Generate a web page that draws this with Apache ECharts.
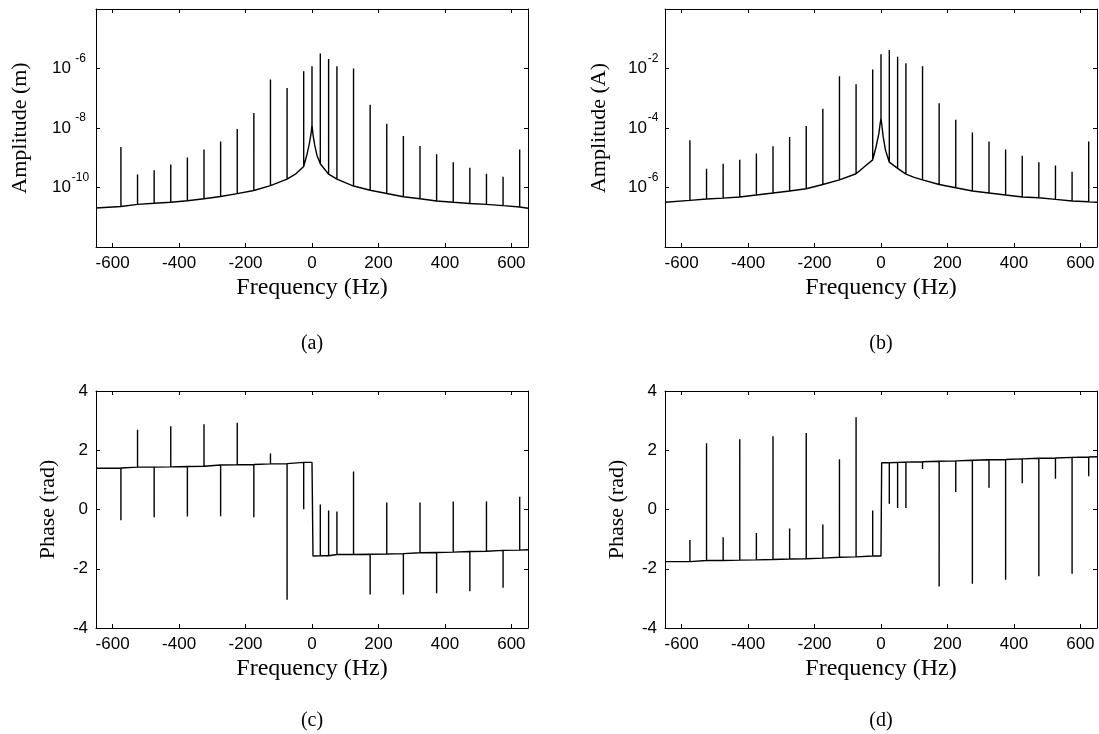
<!DOCTYPE html>
<html><head><meta charset="utf-8">
<script src="https://cdn.jsdelivr.net/npm/echarts@6.0.0/dist/echarts.min.js"></script>
<style>html,body{margin:0;padding:0;background:#fff}#c{width:1099px;height:734px}</style>
</head><body><div id="c"></div>
<script>
// ---------- data ----------
const X_TICKS = [-600, -400, -200, 0, 200, 400, 600];
// labelled decades (exponents) of the two amplitude axes
const Y_M_EXPONENTS = [-10, -8, -6];
const Y_A_EXPONENTS = [-6, -4, -2];

// harmonic frequencies carrying a spike (Hz)
const FREQ_HZ = [-575,-525,-475,-425,-375,-325,-275,-225,-175,-125,-75,-25,0,25,50,75,125,175,225,275,325,375,425,475,525,575,625];

// (a) displacement amplitude (m)
const AMP_M_PEAK  = [2.3e-9,2.75e-10,3.8e-10,5.9e-10,1.02e-9,1.9e-9,3.5e-9,9.3e-9,3.2e-8,4.3e-7,2.2e-7,8.1e-7,1.2e-6,3.2e-6,2.1e-6,1.2e-6,1.0e-6,6.0e-8,1.4e-8,5.4e-9,2.5e-9,1.3e-9,7.1e-10,4.6e-10,2.9e-10,2.3e-10,1.9e-9];
const AMP_M_FLOOR = [2.3e-11,2.7e-11,2.95e-11,3.2e-11,3.6e-11,4.2e-11,5.0e-11,6.2e-11,7.9e-11,1.15e-10,1.9e-10,5.1e-10,1.26e-8,6.3e-10,2.8e-10,1.9e-10,1.12e-10,8.1e-11,6.3e-11,4.9e-11,4.2e-11,3.5e-11,3.2e-11,2.9e-11,2.7e-11,2.45e-11,2.2e-11];
const AMP_M_XFREQ = [-650,-50,-15,-8,-3,3,8,15,100,650];
const AMP_M_XVAL  = [2.05e-11,2.8e-10,1.3e-9,3.0e-9,6.3e-9,6.0e-9,2.7e-9,1.2e-9,1.45e-10,2.0e-11];

// (b) current amplitude (A)
const AMP_A_PEAK  = [3.9e-5,4.3e-6,6.3e-6,8.5e-6,1.4e-5,2.45e-5,5.0e-5,1.17e-4,4.4e-4,5.5e-3,2.95e-3,9.3e-3,3.0e-2,4.2e-2,2.5e-2,1.5e-2,1.2e-2,6.8e-4,1.9e-4,7.1e-5,3.5e-5,1.9e-5,1.17e-5,7.1e-6,5.5e-6,3.4e-6,3.5e-5];
const AMP_A_FLOOR = [3.7e-7,4.1e-7,4.4e-7,4.8e-7,5.6e-7,6.5e-7,7.6e-7,9.1e-7,1.26e-6,1.8e-6,2.9e-6,8.5e-6,2.1e-4,7.1e-6,4.4e-6,2.8e-6,1.8e-6,1.26e-6,9.8e-7,7.6e-7,6.5e-7,5.6e-7,4.8e-7,4.5e-7,4.0e-7,3.5e-7,3.3e-7];
const AMP_A_XFREQ = [-650,-50,-15,-6.5,-2.5,2.5,6.5,13.5,100,650];
const AMP_A_XVAL  = [3.2e-7,5.0e-6,2.3e-5,6.5e-5,1.4e-4,1.26e-4,5.1e-5,1.8e-5,2.2e-6,3.2e-7];

// phase spectra: harmonics without the DC bin
const PH_FREQ_HZ = [-575,-525,-475,-425,-375,-325,-275,-225,-175,-125,-75,-25,25,50,75,125,175,225,275,325,375,425,475,525,575,625];

// (c) displacement phase (rad)
const PH_C_PEAK = [-0.36,2.69,-0.26,2.81,-0.24,2.88,-0.23,2.93,-0.26,1.89,-3.05,0.01,0.17,-0.03,-0.07,1.28,-2.87,0.24,-2.87,0.24,-2.83,0.27,-2.76,0.27,-2.64,0.43];
const PH_C_BASE = [1.40,1.43,1.43,1.44,1.45,1.46,1.50,1.51,1.52,1.54,1.55,1.59,-1.56,-1.56,-1.52,-1.52,-1.51,-1.50,-1.49,-1.46,-1.45,-1.44,-1.42,-1.41,-1.38,-1.37];
const PH_C_XFREQ = [-650,0,3,650];
const PH_C_XVAL  = [1.39,1.59,-1.57,-1.36];

// (d) current phase (rad)
const PH_D_PEAK = [-1.03,2.24,-0.94,2.37,-0.79,2.47,-0.64,2.58,-0.51,1.70,3.11,-0.03,0.19,0.05,0.05,1.37,-2.60,0.59,-2.51,0.73,-2.37,0.89,-2.25,1.04,-2.17,1.12];
const PH_D_BASE = [-1.76,-1.72,-1.72,-1.71,-1.70,-1.69,-1.67,-1.66,-1.64,-1.61,-1.60,-1.57,1.58,1.59,1.60,1.61,1.63,1.64,1.66,1.68,1.69,1.71,1.73,1.74,1.76,1.77];
const PH_D_XFREQ = [-650,0,2,650];
const PH_D_XVAL  = [-1.76,-1.57,1.58,1.78];

// ---------- build traces ----------
function buildTrace(freqs, peaks, floors, xf, xv) {
  const pts = [];
  freqs.forEach((f, i) => {
    pts.push({f, o: 0, v: floors[i]});
    pts.push({f, o: 1, v: peaks[i]});
    pts.push({f, o: 2, v: floors[i]});
  });
  xf.forEach((f, i) => pts.push({f, o: 0, v: xv[i]}));
  pts.sort((a, b) => (a.f - b.f) || (a.o - b.o));
  return pts.map(p => [p.f, p.v]);
}

const SANS = 'Liberation Sans';
const SERIF = 'Liberation Serif';
const BLACK = '#000';

const GRIDS = [
  {left: 96,  top: 9,   width: 432, height: 238},
  {left: 665, top: 9,   width: 432, height: 238},
  {left: 96,  top: 391, width: 432, height: 237},
  {left: 665, top: 391, width: 432, height: 237}
];

const lineAx = {show: true, onZero: false, lineStyle: {color: BLACK, width: 1}};

function xPair(gi) {
  return [
    {type: 'value', gridIndex: gi, position: 'bottom', min: -650, max: 650,
     axisLine: lineAx,
     axisTick: {show: true, inside: true, length: 4, customValues: X_TICKS, lineStyle: {color: BLACK}},
     axisLabel: {customValues: X_TICKS, margin: 8, color: BLACK, fontFamily: SANS, fontSize: 17},
     splitLine: {show: false},
     name: 'Frequency (Hz)', nameLocation: 'middle', nameGap: 29,
     nameTextStyle: {fontFamily: SERIF, fontSize: 24, color: BLACK}},
    {type: 'value', gridIndex: gi, position: 'top', min: -650, max: 650,
     axisLine: lineAx,
     axisTick: {show: true, inside: true, length: 4, customValues: X_TICKS, lineStyle: {color: BLACK}},
     axisLabel: {show: false}, splitLine: {show: false}}
  ];
}

function logPair(gi, min, max, exps, name, nameGap, expWidth) {
  const common = {type: 'log', logBase: 10, gridIndex: gi, min, max, interval: 2,
                  axisLine: lineAx, splitLine: {show: false}, minorTick: {show: false}};
  return [
    Object.assign({}, common, {
      position: 'left',
      axisTick: {show: true, inside: true, length: 4, lineStyle: {color: BLACK}},
      axisLabel: {
        show: true, margin: 6,
        formatter: v => {
          const e = Math.round(Math.log10(v));
          return exps.indexOf(e) >= 0 ? '{b|10}{s|' + e + '}' : '';
        },
        rich: {
          b: {fontFamily: SANS, fontSize: 17, lineHeight: 32, color: BLACK},
          s: {fontFamily: SANS, fontSize: 12, lineHeight: 14, verticalAlign: 'top', width: expWidth, align: 'left', color: BLACK}
        }
      },
      name, nameLocation: 'middle', nameRotate: 90, nameGap,
      nameTextStyle: {fontFamily: SERIF, fontSize: 22, color: BLACK}
    }),
    Object.assign({}, common, {
      position: 'right',
      axisTick: {show: true, inside: true, length: 4, lineStyle: {color: BLACK}},
      axisLabel: {show: false}
    })
  ];
}

function linPair(gi, name, nameGap) {
  const common = {type: 'value', gridIndex: gi, min: -4, max: 4, interval: 2,
                  axisLine: lineAx, splitLine: {show: false}};
  return [
    Object.assign({}, common, {
      position: 'left',
      axisTick: {show: true, inside: true, length: 4, lineStyle: {color: BLACK}},
      axisLabel: {margin: 8, color: BLACK, fontFamily: SANS, fontSize: 17},
      name, nameLocation: 'middle', nameRotate: 90, nameGap,
      nameTextStyle: {fontFamily: SERIF, fontSize: 22, color: BLACK}
    }),
    Object.assign({}, common, {
      position: 'right',
      axisTick: {show: true, inside: true, length: 4, lineStyle: {color: BLACK}},
      axisLabel: {show: false}
    })
  ];
}

const xAxis = [].concat(xPair(0), xPair(1), xPair(2), xPair(3));
const yAxis = [].concat(
  logPair(0, 1e-12, 1e-4, Y_M_EXPONENTS, 'Amplitude (m)', 65, 19),
  logPair(1, 1e-8, 1, Y_A_EXPONENTS, 'Amplitude (A)', 55, 12),
  linPair(2, 'Phase (rad)', 37),
  linPair(3, 'Phase (rad)', 37)
);

function trace(idx, data) {
  return {type: 'line', xAxisIndex: idx * 2, yAxisIndex: idx * 2, data,
          symbol: 'none', showSymbol: false, silent: true, animation: false,
          lineStyle: {color: BLACK, width: 1.4}};
}

const series = [
  trace(0, buildTrace(FREQ_HZ, AMP_M_PEAK, AMP_M_FLOOR, AMP_M_XFREQ, AMP_M_XVAL)),
  trace(1, buildTrace(FREQ_HZ, AMP_A_PEAK, AMP_A_FLOOR, AMP_A_XFREQ, AMP_A_XVAL)),
  trace(2, buildTrace(PH_FREQ_HZ, PH_C_PEAK, PH_C_BASE, PH_C_XFREQ, PH_C_XVAL)),
  trace(3, buildTrace(PH_FREQ_HZ, PH_D_PEAK, PH_D_BASE, PH_D_XFREQ, PH_D_XVAL))
];

const CAPTIONS = ['(a)', '(b)', '(c)', '(d)'];
const graphic = CAPTIONS.map((t, i) => ({
  type: 'text', silent: true,
  x: GRIDS[i].left + GRIDS[i].width / 2,
  y: i < 2 ? 344 : 721,
  style: {text: t, font: '20px "Liberation Serif"', fill: BLACK, textAlign: 'center', textVerticalAlign: 'middle'}
}));

const chart = echarts.init(document.getElementById('c'), null, {renderer: 'canvas'});
chart.setOption({
  animation: false,
  backgroundColor: '#fff',
  grid: GRIDS.map(g => Object.assign({containLabel: false, outerBoundsMode: 'none'}, g)),
  xAxis, yAxis, series, graphic
});
</script></body></html>
